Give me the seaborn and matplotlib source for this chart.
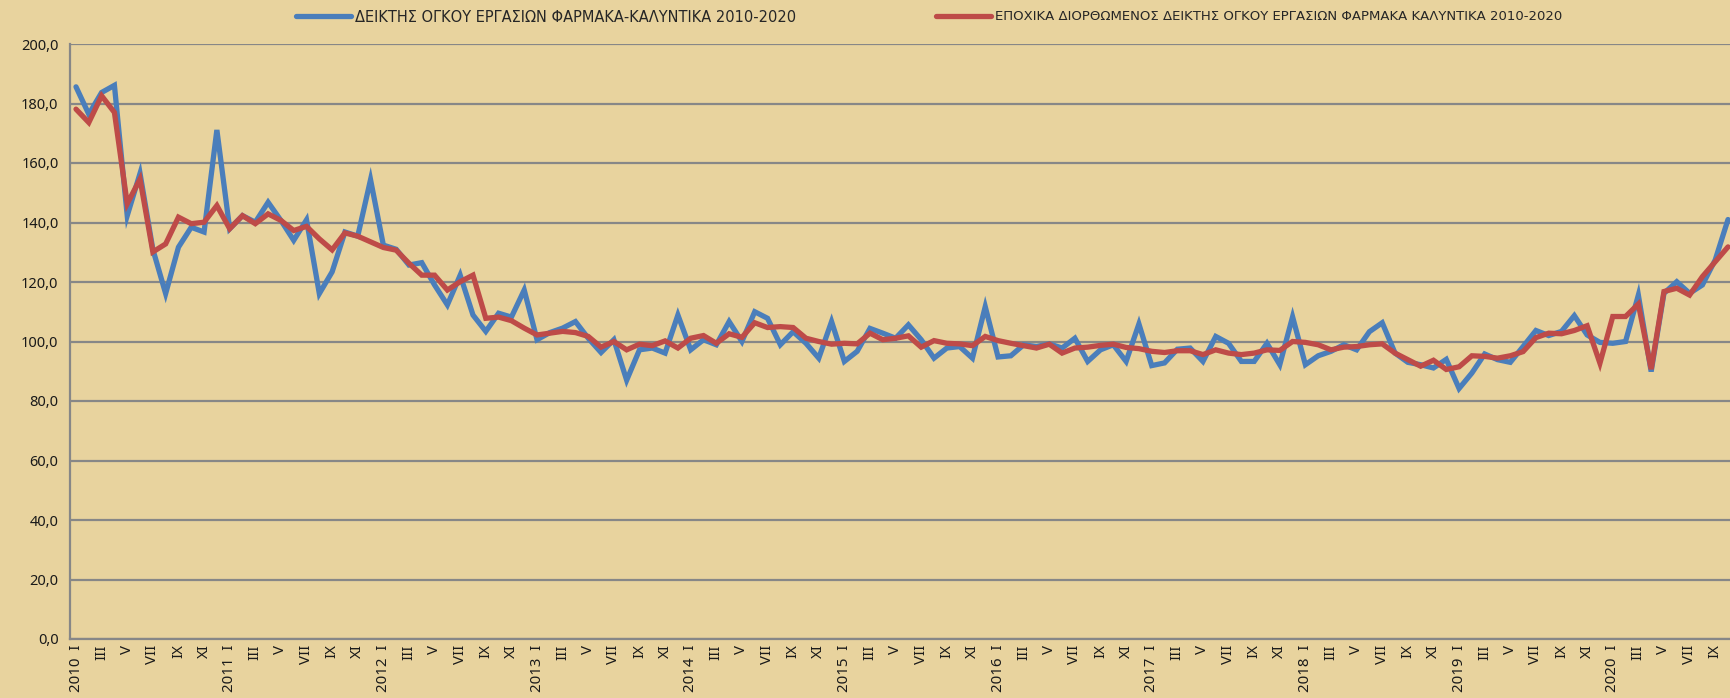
import numpy as np
import pandas as pd
import matplotlib
matplotlib.use("Agg")
import matplotlib.pyplot as plt
from matplotlib.lines import Line2D
import seaborn as sns

# ---------------- data ----------------
years = list(range(2010, 2021))
months = ["I", "II", "III", "IV", "V", "VI", "VII", "VIII", "IX", "X", "XI", "XII"]

series_names = [
    "ΔΕΙΚΤΗΣ ΟΓΚΟΥ ΕΡΓΑΣΙΩΝ ΦΑΡΜΑΚΑ-ΚΑΛΥΝΤΙΚΑ 2010-2020",
    "ΕΠΟΧΙΚΑ ΔΙΟΡΘΩΜΕΝΟΣ ΔΕΙΚΤΗΣ ΟΓΚΟΥ ΕΡΓΑΣΙΩΝ ΦΑΡΜΑΚΑ ΚΑΛΥΝΤΙΚΑ 2010-2020",
]

raw_index = [
    185.6, 176.4, 183.7, 186.1, 142.3, 156.5, 131.0, 116.1, 131.7, 138.4, 136.8, 171.1,  # 2010
    137.9, 142.3, 140.1, 146.8, 140.7, 134.0, 140.9, 116.1, 123.4, 136.8, 135.4, 154.4,  # 2011
    132.4, 131.0, 125.7, 126.5, 119.0, 112.3, 122.3, 108.9, 103.4, 109.5, 108.2, 117.3,  # 2012
    100.6, 103.0, 104.5, 106.7, 101.1, 96.3, 100.6, 87.0, 97.2, 97.8, 96.1, 108.9,       # 2013
    97.2, 100.6, 98.9, 106.7, 100.0, 110.0, 107.8, 98.9, 103.3, 99.4, 94.4, 106.7,       # 2014
    93.3, 96.7, 104.4, 102.8, 101.1, 105.6, 100.6, 94.4, 97.8, 98.3, 94.4, 111.7,        # 2015
    94.8, 95.2, 98.9, 98.3, 99.2, 97.8, 101.1, 93.3, 97.2, 98.9, 93.3, 105.9,            # 2016
    91.9, 92.8, 97.4, 97.8, 93.3, 101.7, 99.4, 93.3, 93.3, 99.4, 92.2, 108.3,            # 2017
    92.2, 95.2, 96.7, 98.9, 97.2, 103.3, 106.3, 96.1, 93.0, 92.2, 91.1, 94.0,            # 2018
    84.2, 89.4, 95.8, 93.9, 93.0, 98.3, 103.7, 102.0, 103.4, 108.7, 102.2, 99.7,         # 2019
    99.4, 100.0, 115.6, 89.9, 116.2, 120.1, 116.2, 119.0, 127.4, 141.0,                  # 2020
]

seasonal_adj = [
    178.1, 173.6, 182.6, 177.0, 146.3, 154.6, 130.1, 132.8, 141.8, 139.6, 140.1, 145.7,  # 2010
    137.9, 142.3, 139.6, 142.9, 140.7, 137.3, 138.7, 134.5, 130.8, 136.5, 135.4, 133.5,  # 2011
    131.6, 130.7, 126.3, 122.3, 122.3, 117.3, 120.1, 122.3, 107.8, 108.2, 107.0, 104.5,  # 2012
    102.2, 102.8, 103.4, 103.0, 101.7, 98.1, 100.0, 97.2, 99.1, 98.6, 100.2, 97.8,       # 2013
    101.1, 102.0, 99.4, 102.6, 101.4, 106.3, 104.7, 105.0, 104.7, 101.1, 100.0, 99.1,    # 2014
    99.4, 99.2, 102.8, 100.6, 101.1, 101.9, 98.1, 100.3, 99.4, 99.2, 98.6, 101.7,        # 2015
    100.3, 99.4, 98.6, 97.8, 99.1, 96.1, 97.8, 98.1, 98.7, 99.1, 98.0, 97.6,             # 2016
    96.7, 96.3, 96.9, 96.9, 95.6, 97.2, 96.1, 95.6, 96.1, 97.2, 97.0, 100.0,             # 2017
    99.7, 98.9, 97.2, 98.1, 98.3, 98.9, 99.2, 96.1, 93.9, 91.7, 93.7, 90.6,              # 2018
    91.5, 95.2, 95.0, 94.4, 95.2, 96.6, 101.3, 102.8, 102.6, 103.7, 105.3, 92.7,         # 2019
    108.4, 108.4, 112.6, 90.7, 116.8, 117.9, 115.6, 121.8, 126.8, 131.8,                 # 2020
]

y_ticks = [0, 20, 40, 60, 80, 100, 120, 140, 160, 180, 200]

# ---------------- styling ----------------
BG = "#E8D39E"
BLUE = "#4A7EBB"
RED = "#BE4B48"
GRID = "#878787"

sns.set_theme(style="white")
plt.rcParams["font.family"] = ["Noto Sans", "DejaVu Sans"]

n = len(raw_index)
t = np.arange(n)
df = pd.concat([
    pd.DataFrame({"t": t, "value": raw_index, "series": series_names[0]}),
    pd.DataFrame({"t": t, "value": seasonal_adj, "series": series_names[1]}),
], ignore_index=True)

W, H = 1731, 698
fig = plt.figure(figsize=(W / 100, H / 100), dpi=100, facecolor=BG)
ax = fig.add_axes([69.6 / W, (H - 639) / H, 1664.8 / W, 595 / H])
ax.set_facecolor(BG)

sns.lineplot(data=df, x="t", y="value", hue="series",
             palette=[BLUE, RED], linewidth=3.8, ax=ax, legend=False,
             solid_joinstyle="miter")

ax.set_xlim(-0.5, n - 0.5)
ax.set_ylim(0, 200)
ax.set_yticks(y_ticks)
ax.set_yticklabels([f"{v:.1f}".replace(".", ",") for v in y_ticks])
ax.yaxis.grid(True, color=GRID, linewidth=1.6)
ax.xaxis.grid(False)
ax.set_axisbelow(True)

xt = list(range(0, n, 2))
xl = []
for k in xt:
    yr, m = years[k // 12], months[k % 12]
    xl.append(f"{yr}  {m}" if m == "I" else m)
ax.set_xticks(xt)
ax.set_xticklabels(xl, rotation=90, ha="center", va="top")
ax.tick_params(axis="x", length=0, pad=4, labelsize=10.8, colors="#1a1a1a")
ax.tick_params(axis="y", length=0, pad=8, labelsize=10.5, colors="#1a1a1a")
ax.set_xlabel("")
ax.set_ylabel("")

for s in ["top", "right"]:
    ax.spines[s].set_visible(False)
for s in ["left", "bottom"]:
    ax.spines[s].set_color(GRID)
    ax.spines[s].set_linewidth(1.6)

for name, col, x0, fs in [(series_names[0], BLUE, 296, 10.5),
                          (series_names[1], RED, 936, 9.5)]:
    h = Line2D([], [], color=col, linewidth=3.8, solid_capstyle="round")
    fig.legend(handles=[h], labels=[name], loc="center left",
               bbox_to_anchor=(x0 / W, 1 - 17 / H), frameon=False,
               borderpad=0, borderaxespad=0, handlelength=55 / (fs * 100 / 72),
               handletextpad=0.3,
               prop={"family": ["Liberation Sans Narrow", "DejaVu Sans"], "size": fs})

fig.savefig("out.png", dpi=100, facecolor=BG)
